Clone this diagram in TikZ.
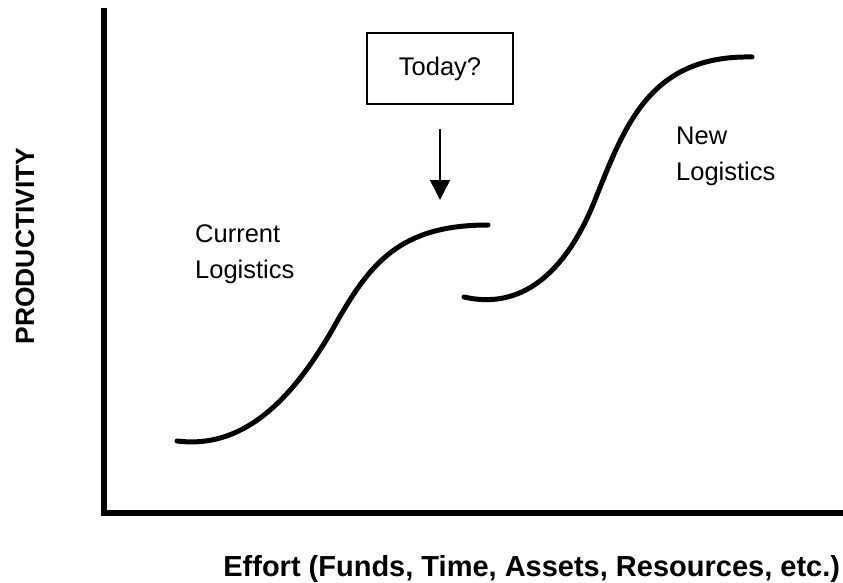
\documentclass[tikz,border=0pt]{standalone}
\usepackage{fontspec}
\setmainfont{Liberation Sans}
\usetikzlibrary{arrows.meta}

\begin{document}
\begin{tikzpicture}[%
        x = 1pt,
        y = -1pt,
        line cap = round,
        label_text/.style = {inner sep = 0pt, align = left, anchor = north west,
            font = \fontsize{25.5}{36.5}\selectfont},
        axis_text/.style = {inner sep = 0pt, font = \bfseries}
    ]
        \useasboundingbox (0, 0) rectangle (843, 583);

        % Coordinates for the corner of the axes.
        \coordinate (Top) at (104, 8);
        \coordinate (Right) at (843, 512.5);
        \coordinate (Arrow_Tip) at (440, 200);

        % Axes.
        \draw[line width = 6pt, line cap = butt] (Top) |- (Right);

        % Curve for the current logistics.
        \draw[line width = 5pt]
            (177, 441) .. controls (240, 449) and (290, 405) .. (335, 325)
            .. controls (370, 263) and (400, 225) .. (488, 225);

        % Curve for the new logistics.
        \draw[line width = 5pt]
            (464, 297) .. controls (520, 310) and (565, 275) .. (595, 200)
            .. controls (625, 125) and (650, 55) .. (752, 57);

        % Box with the question and its arrow.
        \node[draw, line width = 1.7pt, minimum width = 146pt, minimum height = 71pt,
            inner sep = 0pt, font = \fontsize{25.5}{30}\selectfont]
            (Today_Box) at (440, 68.5) {Today?};
        \draw[line width = 1.7pt, line cap = butt, shorten <= 24pt,
            -{Triangle[width = 20pt, length = 20pt]}] (Today_Box.south) -- (Arrow_Tip);

        % Labels for the two curves.
        \node[label_text] (Current_Label) at (195, 224) {Current\\Logistics};
        \node[label_text] (New_Label) at (676, 126.5) {New\\Logistics};

        % Labels for the axes.
        \node[axis_text, rotate = 90, font = \bfseries\fontsize{26.4}{30}\selectfont]
            (Y_Label) at (25, 246) {PRODUCTIVITY};
        \node[axis_text, anchor = base, font = \bfseries\fontsize{29}{34}\selectfont]
            (X_Label) at (531.7, 576) {Effort (Funds, Time, Assets, Resources, etc.)};
    \end{tikzpicture}
\end{document}
